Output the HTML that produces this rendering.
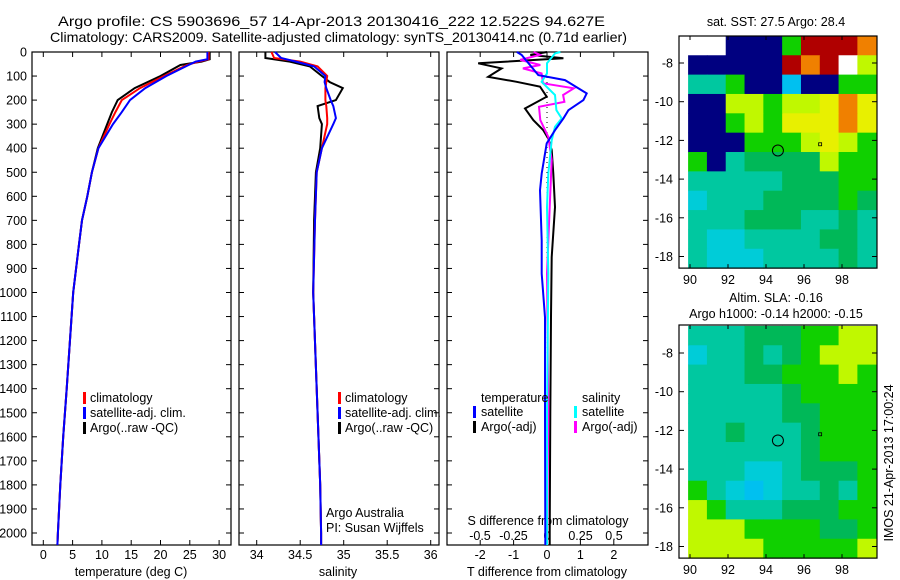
<!DOCTYPE html>
<html><head><meta charset="utf-8"><style>
html,body{margin:0;padding:0;background:#fff;}
svg{display:block;font-family:"Liberation Sans",sans-serif;}
text{font-size:12.5px;fill:#000;}
</style></head><body>
<svg id="s" width="900" height="580" viewBox="0 0 900 580" xmlns="http://www.w3.org/2000/svg">
<text x="58" y="26" style="font-size:14px" textLength="547" lengthAdjust="spacingAndGlyphs">Argo profile: CS 5903696_57 14-Apr-2013 20130416_222 12.522S 94.627E</text>
<text x="50" y="42" style="font-size:14px" textLength="577" lengthAdjust="spacingAndGlyphs">Climatology: CARS2009. Satellite-adjusted climatology: synTS_20130414.nc (0.71d earlier)</text>
<g id="g"></g>
</svg>
<script>
// ---- data ----
const depthT = [0,30,40,54,100,150,200,250,300,400,500,600,700,800,1000,1400,1600,1800,2000,2050];
const tempArgo = [28.4,28.4,27.0,23.4,20.0,15.6,12.7,11.7,10.9,9.3,8.3,7.5,6.6,6.1,5.1,4.0,3.4,2.9,2.5,2.4];
const tempClim = [28.2,28.2,26.5,24.5,20.6,16.5,13.4,12.3,11.3,9.4,8.3,7.5,6.6,6.1,5.1,4.0,3.4,2.9,2.5,2.4];
const tempSat  = [28.0,28.0,26.0,24.8,21.0,17.4,14.8,13.4,11.9,9.4,8.3,7.5,6.6,6.1,5.1,4.0,3.4,2.9,2.5,2.4];
const depthS = [0,25,40,60,100,125,150,200,225,275,300,400,500,700,1000,1400,1800,2000,2050];
const salArgo = [34.10,34.10,34.38,34.61,34.75,34.84,34.99,34.91,34.70,34.72,34.75,34.73,34.68,34.66,34.65,34.69,34.73,34.74,34.74];
const salClim = [34.17,34.20,34.50,34.70,34.81,34.80,34.79,34.79,34.80,34.81,34.81,34.75,34.69,34.67,34.65,34.69,34.73,34.74,34.74];
const salSat  = [34.21,34.28,34.45,34.66,34.79,34.78,34.80,34.85,34.88,34.91,34.88,34.75,34.69,34.67,34.65,34.69,34.73,34.74,34.74];
const depthDT = [0,12,26,47,68,103,124,144,186,235,283,325,360,408,505,645,853,1100,1500,2000,2050];
const dTArgo = [0.0,-0.5,0.49,-2.06,-1.36,-1.76,-0.91,-0.21,-0.01,-0.66,-0.41,-0.11,0.04,0.14,0.19,0.24,0.14,0.12,0.1,0.08,0.08];
const depthDTS = [0,12,96,117,172,200,242,276,325,380,505,575,783,922,1103,1500,2000,2050];
const dTSat = [-0.9,-0.76,-0.26,0.54,1.19,1.09,0.64,0.49,0.24,-0.01,-0.16,-0.21,-0.16,-0.16,-0.06,-0.06,-0.05,-0.05];
const depthDSA = [0,12,33,54,68,89,130,151,179,207,228,283,353,450,645,922,1500,2050];
const dSArgo = [-0.1,-0.052,-0.2,-0.05,-0.18,-0.04,-0.03,0.2,0.12,0.13,-0.06,-0.05,0.01,0.035,0.02,0.0,0.01,0.0];
const depthDSS = [0,6,47,89,124,179,242,276,311,367,505,645,922,1500,2050];
const dSSat = [0.1,0.06,0,0,-0.04,0.06,0.07,0.11,0.06,0.035,0.01,0,0.01,0,0];
const depthTicks = [0,100,200,300,400,500,600,700,800,900,1000,1100,1200,1300,1400,1500,1600,1700,1800,1900,2000];
const tTicks = [0,5,10,15,20,25,30];
const sTicks = [34,34.5,35,35.5,36];
const sTickLabels = ["34","34.5","35","35.5","36"];
const dTTicks = [-2,-1,0,1,2];
const dSTicks = [-0.5,-0.25,0,0.25,0.5];
const dSTickLabels = ["-0.5","-0.25","0","0.25","0.5"];
const latTicks = [-8,-10,-12,-14,-16,-18];
const lonTicks = [90,92,94,96,98];
const sstGrid = ["WWNNNGRRRO","NNNNNRORWL","TTGNNBNNGG","NNLLGLLYOY","NNGLGYYYOY","NNNGGGLYLG","GNTggggLGG","TTTTTgggGG","CTTTggggGg","TTTgggTTgT","TCCTTTTggT","TCCCTTTTgT"];
const slaGrid = ["TTTgggGGLL","CTTgTgGLLL","TTTggGGGLG","TTTTTgGGGG","TTTTTggGGG","TTgTTTgGGG","TTTTTTgGGG","TTTCCTgggG","GTCBCTTgTG","LGTTTgggGG","LLLGGGGggG","LLLLGGGGGL"];
const argoLon = 94.627, argoLat = -12.522;

// ---- helpers ----
const NS="http://www.w3.org/2000/svg", G=document.getElementById('g');
function el(tag,attrs,parent){const e=document.createElementNS(NS,tag);for(const k in attrs)e.setAttribute(k,attrs[k]);(parent||G).appendChild(e);return e;}
function txt(x,y,s,anchor,parent){const t=el('text',{x:x,y:y,'text-anchor':anchor||'start'},parent);t.textContent=s;return t;}
const plotTop=52, plotBot=545;
const yD = d => plotTop + d*0.2405;
function poly(xs,ds,fx,color,name){
  const pts=xs.map((v,i)=>fx(v).toFixed(1)+','+yD(ds[i]).toFixed(1)).join(' ');
  const p=el('polyline',{points:pts,fill:'none',stroke:color,'stroke-width':2});
  
  
}
function panel(x0,x1,name){
  const r=el('rect',{x:x0,y:plotTop,width:x1-x0,height:plotBot-plotTop,fill:'none',stroke:'#000','stroke-width':1.2});
  
  
  depthTicks.forEach(d=>{el('line',{x1:x0,x2:x0+5,y1:yD(d),y2:yD(d),stroke:'#000'});el('line',{x1:x1,x2:x1-5,y1:yD(d),y2:yD(d),stroke:'#000'});});
}
function xticks(vals,labels,fx,yLab,both){
  vals.forEach((v,i)=>{const x=fx(v);el('line',{x1:x,x2:x,y1:plotBot,y2:plotBot-5,stroke:'#000'});if(both)el('line',{x1:x,x2:x,y1:plotTop,y2:plotTop+5,stroke:'#000'});
    if(yLab){const t=txt(x,yLab,labels[i],'middle');}});
}
function legendBar(x,y,color){el('rect',{x:x,y:y-10,width:3,height:12,fill:color});}

// ---- panel 1: temperature ----
const xT = t => 43.3 + t*5.86;
panel(32,231,'temperature-panel');
depthTicks.forEach(d=>{const t=txt(27,yD(d)+4.5,String(d),'end');});
xticks(tTicks,tTicks.map(String),xT,559,true);
txt(131,576,'temperature (deg C)','middle');
poly(tempArgo,depthT,xT,'#000','temp-argo-line');
poly(tempClim,depthT,xT,'#f00','temp-clim-line');
poly(tempSat,depthT,xT,'#00f','temp-sat-line');
legendBar(83,402,'#f00');txt(90,402,'climatology');
legendBar(83,417,'#00f');txt(90,417,'satellite-adj. clim.');
legendBar(83,432,'#000');txt(90,432,'Argo(..raw -QC)');

// ---- panel 2: salinity ----
const xS = s => 256.7 + (s-34)*87;
panel(239,439,'salinity-panel');
xticks(sTicks,sTickLabels,xS,559,true);
txt(338,576,'salinity','middle');
poly(salArgo,depthS,xS,'#000','sal-argo-line');
poly(salClim,depthS,xS,'#f00','sal-clim-line');
poly(salSat,depthS,xS,'#00f','sal-sat-line');
legendBar(338,402,'#f00');txt(345,402,'climatology');
legendBar(338,417,'#00f');txt(345,417,'satellite-adj. clim.');
legendBar(338,432,'#000');txt(345,432,'Argo(..raw -QC)');
txt(326,517,'Argo Australia');txt(326,532,'PI: Susan Wijffels');

// ---- panel 3: differences ----
const xdT = v => 547 + v*33.4;
const xdS = v => 547 + v*134;
panel(447,648,'difference-panel');
el('line',{x1:547,x2:547,y1:plotTop,y2:plotBot,stroke:'#000','stroke-dasharray':'1,4'});
xticks(dTTicks,dTTicks.map(String),xdT,559,true);
dSTicks.forEach((v,i)=>{const t=txt(xdS(v),540,dSTickLabels[i],'middle');});
txt(548,525,'S difference from climatology','middle');
txt(547,576,'T difference from climatology','middle');
poly(dTArgo,depthDT,xdT,'#000','dT-argo-line');
poly(dSArgo,depthDSA,xdS,'#f0f','dS-argo-line');
poly(dSSat,depthDSS,xdS,'#0ff','dS-sat-line');
poly(dTSat,depthDTS,xdT,'#00f','dT-sat-line');
txt(481,402,'temperature');txt(582,402,'salinity');
legendBar(473,416,'#00f');txt(481,416,'satellite');
legendBar(473,431,'#000');txt(481,431,'Argo(-adj)');
legendBar(574,416,'#0ff');txt(582,416,'satellite');
legendBar(574,431,'#f0f');txt(582,431,'Argo(-adj)');

// ---- maps ----
const colors={W:'#ffffff',N:'#000080',R:'#b00000',O:'#f08000',Y:'#e8f000',L:'#c0f800',G:'#10d000',g:'#00b858',T:'#00c8a0',C:'#00ccd8',B:'#00c0f0'};
const xLon = lon => 690 + (lon-90)*19;
function map(grid,y0,yLat8,name){
  const yLat = lat => yLat8 + (-8-lat)*19.35;
  const g=el('g',{});
  
  
  const latTop=-6.6, lonL=89.9, lonR=99.8, latB=-18.6;
  const rows=grid.length, cols=grid[0].length;
  const dLon=(lonR-lonL)/cols, dLat=(latTop-latB)/rows;
  grid.forEach((row,r)=>{for(let c=0;c<cols;c++){
    const x=xLon(lonL+c*dLon), y=yLat(latTop-r*dLat);
    el('rect',{x:x,y:y,width:xLon(lonL+(c+1)*dLon)-x+0.5,height:yLat(latTop-(r+1)*dLat)-y+0.5,fill:colors[row[c]]},g);
  }});
  const by=y0, bb=yLat(-18.6);
  el('rect',{x:679,y:by,width:198,height:bb-by,fill:'none',stroke:'#000','stroke-width':1.2},g);
  latTicks.forEach(l=>{const y=yLat(l);el('line',{x1:679,x2:684,y1:y,y2:y,stroke:'#000'},g);el('line',{x1:877,x2:872,y1:y,y2:y,stroke:'#000'},g);txt(673,y+4.5,String(l),'end',g);});
  lonTicks.forEach(l=>{const x=xLon(l);el('line',{x1:x,x2:x,y1:by,y2:by+4,stroke:'#000'},g);el('line',{x1:x,x2:x,y1:bb,y2:bb-4,stroke:'#000'},g);txt(x,bb+16,String(l),'middle',g);});
  el('circle',{cx:xLon(argoLon),cy:yLat(argoLat),r:5.5,fill:'none',stroke:'#000','stroke-width':1},g);
  el('rect',{x:xLon(96.85)-1.5,y:yLat(-12.2)-1.5,width:3,height:3,fill:'none',stroke:'#000','stroke-width':0.8},g);
}
map(sstGrid,36,63,'sst-map');
txt(776,26,'sat. SST: 27.5 Argo: 28.4','middle');
map(slaGrid,325,353,'sla-map');
txt(776,302,'Altim. SLA: -0.16','middle');
txt(776,318,'Argo h1000: -0.14 h2000: -0.15','middle');
const v=txt(0,0,'IMOS 21-Apr-2013 17:00:24','middle');
v.setAttribute('transform','translate(893,463) rotate(-90)');


</script>
</body></html>
